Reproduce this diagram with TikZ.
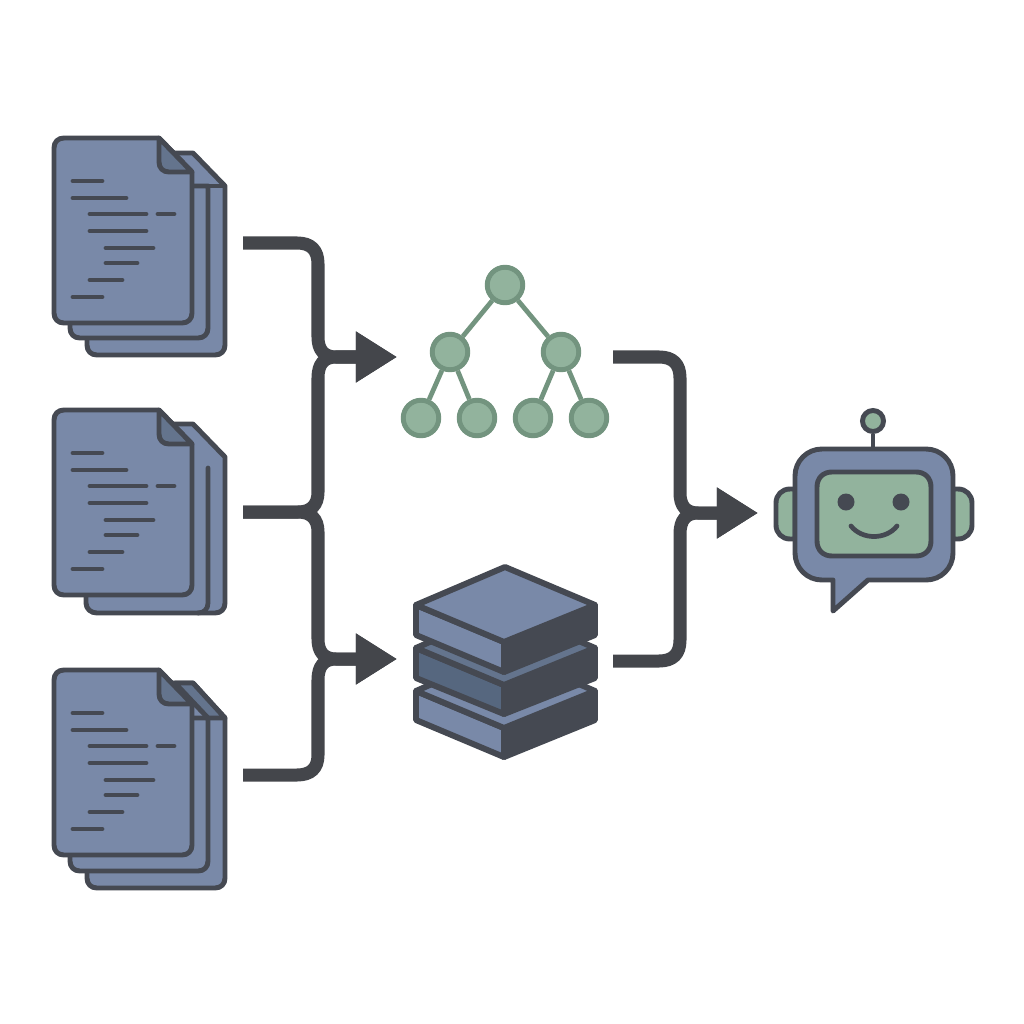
\documentclass[tikz,border=0pt]{standalone}
\usepackage{xcolor}
\usepackage{tikz}
\usetikzlibrary{arrows.meta}
\definecolor{slateline}{HTML}{454952}
\definecolor{slatefill}{HTML}{7989A8}
\definecolor{slatedark}{HTML}{56677F}
\definecolor{slatefold}{HTML}{64748D}
\definecolor{sagefill}{HTML}{92B39D}
\definecolor{sageline}{HTML}{73947F}
\definecolor{flowline}{HTML}{44464B}

\begin{document}
\begin{tikzpicture}[
    x=0.01cm,
    y=-0.01cm,
    outline/.style={draw=slateline, line width=1.4pt, line join=round},
    sheet/.style={outline, fill=slatefill},
    textline/.style={draw=slateline, line width=1.35pt, line cap=round},
    flow/.style={draw=flowline, line width=3.7pt},
    flowtip/.style={flow, -{Triangle[length=11.7pt, width=13.7pt]}},
    treenode/.style={circle, draw=sageline, fill=sagefill, line width=1.4pt, minimum size=0.355cm, inner sep=0pt},
    treeedge/.style={draw=sageline, line width=1.35pt},
    layerline/.style={draw=slateline, line width=1.7pt, line join=round},
    layerside/.style={layerline, fill=slatefill},
    layerdark/.style={layerline, fill=slateline},
]

\useasboundingbox[fill=white] (0,0) rectangle (1024,1024);

% sheets behind the front pages, top stack
\draw[sheet] (97,355) .. controls (91,355) and (87,351) .. (87,345) -- (87,320) -- (170,153) -- (193,153) -- (225,186) -- (225,345) .. controls (225,351) and (221,355) .. (215,355) -- cycle;
\draw[sheet] (80,338) .. controls (74,338) and (70,334) .. (70,328) -- (70,300) -- (180,186) -- (208,186) -- (208,328) .. controls (208,334) and (204,338) .. (198,338) -- cycle;
\draw[outline] (208,186) -- (225,186);

% middle stack
\draw[sheet] (97,613) .. controls (91,613) and (86,609) .. (86,603) -- (86,560) -- (170,424) -- (193,424) -- (225,457) -- (225,603) .. controls (225,609) and (221,613) .. (215,613) -- cycle;
\draw[textline] (208,468) -- (208,603) .. controls (208,609) and (204,613) .. (198,613);

% bottom stack
\draw[sheet] (97,888) .. controls (91,888) and (87,884) .. (87,878) -- (87,850) -- (170,683) -- (193,683) -- (225,718) -- (225,878) .. controls (225,884) and (221,888) .. (215,888) -- cycle;
\draw[outline, fill=slatefold] (175,683) -- (193,683) -- (225,718) -- (208,718) -- cycle;
\draw[sheet] (80,871) .. controls (74,871) and (70,867) .. (70,861) -- (70,830) -- (180,718) -- (208,718) -- (208,861) .. controls (208,867) and (204,871) .. (198,871) -- cycle;

% front pages
\foreach \pagetop in {138,410,670}{
  \begin{scope}[yshift=-\pagetop*0.01cm]
    \draw[sheet] (64,0) -- (159,0) -- (192,34) -- (192,175) .. controls (192,181) and (188,185) .. (182,185) -- (64,185) .. controls (58,185) and (54,181) .. (54,175) -- (54,10) .. controls (54,4) and (58,0) .. (64,0) -- cycle;
    \draw[outline, fill=slatefold] (159,0) -- (192,34) -- (169,34) .. controls (163,34) and (159,30) .. (159,24) -- cycle;
    \foreach \xa/\xb/\ya in {73/102/43, 73/126/60, 90/146/76, 158/174/76, 90/146/93, 106/153/110, 106/137/125, 90/122/142, 73/102/159}{
      \draw[textline] (\xa,\ya) -- (\xb,\ya);
    }
  \end{scope}
}

% tree
\node[treenode] (root) at (505,285) {};
\node[treenode] (left) at (450,352) {};
\node[treenode] (right) at (561,352) {};
\node[treenode] (leafa) at (421,418) {};
\node[treenode] (leafb) at (477,418) {};
\node[treenode] (leafc) at (533,418) {};
\node[treenode] (leafd) at (589,418) {};
\draw[treeedge] (root) -- (left);
\draw[treeedge] (root) -- (right);
\draw[treeedge] (left) -- (leafa);
\draw[treeedge] (left) -- (leafb);
\draw[treeedge] (right) -- (leafc);
\draw[treeedge] (right) -- (leafd);

% database layers, lowest first
\draw[layerdark] (504,728) -- (595,691) -- (595,720) -- (504,757) -- cycle;
\draw[layerside] (416,691) -- (504,728) -- (504,757) -- (416,720) -- cycle;
\draw[layerline, fill=slatefill] (505,652) -- (595,691) -- (504,728) -- (416,691) -- cycle;
\draw[layerdark] (504,685) -- (595,648) -- (595,678) -- (504,714) -- cycle;
\draw[layerline, fill=slatedark] (416,648) -- (504,685) -- (504,714) -- (416,678) -- cycle;
\draw[layerline, fill=slatefold] (505,609) -- (595,648) -- (504,685) -- (416,648) -- cycle;
\draw[layerdark] (504,642) -- (595,605) -- (595,635) -- (504,672) -- cycle;
\draw[layerside] (416,605) -- (504,642) -- (504,672) -- (416,635) -- cycle;
\draw[layerline, fill=slatefill] (505,567) -- (595,605) -- (504,642) -- (416,605) -- cycle;

% robot
\draw[outline, fill=sagefill] (795,489) -- (790,489) .. controls (782,489) and (776,495) .. (776,503) -- (776,525) .. controls (776,533) and (782,539) .. (790,539) -- (795,539) -- cycle;
\draw[outline, fill=sagefill] (953,489) -- (958,489) .. controls (966,489) and (972,495) .. (972,503) -- (972,525) .. controls (972,533) and (966,539) .. (958,539) -- (953,539) -- cycle;
\node[circle, draw=slateline, fill=sagefill, line width=1.4pt, minimum size=0.21cm, inner sep=0pt] (antenna) at (873,421) {};
\coordinate (headtop) at (873,449);
\draw[outline] (antenna) -- (headtop);
\draw[sheet] (822,449) -- (926,449) .. controls (941,449) and (953,461) .. (953,476) -- (953,553) .. controls (953,568) and (941,580) .. (926,580) -- (868,580) -- (833,611) -- (833,580) -- (822,580) .. controls (807,580) and (795,568) .. (795,553) -- (795,476) .. controls (795,461) and (807,449) .. (822,449) -- cycle;
\draw[outline, fill=sagefill] (832,472) -- (916,472) .. controls (925,472) and (931,478) .. (931,487) -- (931,541) .. controls (931,550) and (925,556) .. (916,556) -- (832,556) .. controls (823,556) and (817,550) .. (817,541) -- (817,487) .. controls (817,478) and (823,472) .. (832,472) -- cycle;
\node[circle, fill=slateline, minimum size=0.17cm, inner sep=0pt] (eyeleft) at (846,502) {};
\node[circle, fill=slateline, minimum size=0.17cm, inner sep=0pt] (eyeright) at (901,502) {};
\draw[textline] (851,526) .. controls (862,540) and (886,540) .. (897,526);

% connectors
\coordinate (outa) at (243,243);
\coordinate (outb) at (243,512);
\coordinate (outc) at (243,775);
\coordinate (outtree) at (613,357);
\coordinate (outbase) at (613,661);
\coordinate (intree) at (397,357);
\coordinate (inbase) at (397,659);
\coordinate (inbot) at (758,513);

\draw[flowtip] (outa) -- (297,243) .. controls (311,243) and (318,250) .. (318,264) -- (318,337) .. controls (318,350) and (324,357) .. (336,357) -- (intree);
\draw[flowtip] (outb) -- (298,512) .. controls (311,512) and (318,505) .. (318,492) -- (318,378) .. controls (318,364) and (324,357) .. (336,357) -- (intree);
\draw[flowtip] (outb) -- (298,512) .. controls (311,512) and (318,519) .. (318,532) -- (318,639) .. controls (318,652) and (324,659) .. (336,659) -- (inbase);
\draw[flowtip] (outc) -- (297,775) .. controls (311,775) and (318,768) .. (318,755) -- (318,680) .. controls (318,666) and (324,659) .. (336,659) -- (inbase);
\draw[flowtip] (outtree) -- (659,357) .. controls (673,357) and (680,364) .. (680,378) -- (680,493) .. controls (680,506) and (686,513) .. (698,513) -- (inbot);
\draw[flowtip] (outbase) -- (659,661) .. controls (673,661) and (680,654) .. (680,640) -- (680,534) .. controls (680,520) and (686,513) .. (698,513) -- (inbot);

\end{tikzpicture}
\end{document}
